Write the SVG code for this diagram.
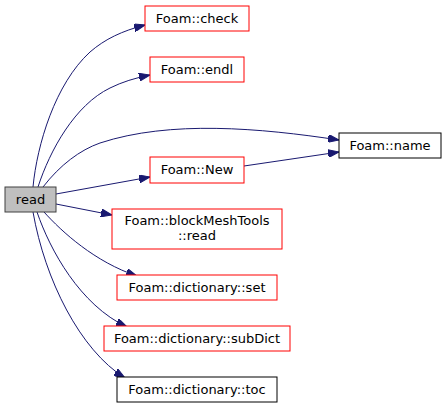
<svg xmlns="http://www.w3.org/2000/svg" width="447" height="408" viewBox="0 0 447 408">
<style>
text{font-family:"DejaVu Sans",sans-serif;font-size:13px;text-anchor:middle;fill:#000}
.r{fill:#fff;stroke:#ff0000;stroke-width:1}
.b{fill:#fff;stroke:#000;stroke-width:1}
.e{fill:none;stroke:#191970;stroke-width:1;marker-end:url(#a)}
</style>
<defs>
<marker id="a" markerUnits="userSpaceOnUse" markerWidth="11" markerHeight="8" refX="11" refY="4" orient="auto"><path d="M0,0 L11,4 L0,8 z" fill="#191970" stroke="#191970"/></marker>
</defs>
<rect width="447" height="408" fill="#fff"/>
<g id="edges">
<path class="e" d="M33,187 C37,145 55,84 90,52 C105,39 122,31 145,25"/>
<path class="e" d="M38,187 C50,150 75,105 110,88 C122,82 135,78 150,75"/>
<path class="e" d="M43,187 C60,165 80,150 100,143 C170,120 260,128 339,140"/>
<path class="e" d="M56,194 L150,177"/>
<path class="e" d="M244,166 L339,152"/>
<path class="e" d="M56,204 L112,215"/>
<path class="e" d="M44,212 C62,232 95,262 137,276"/>
<path class="e" d="M37,212 C50,250 80,305 127,327"/>
<path class="e" d="M33,212 C45,280 80,350 125,378"/>
</g>
<g id="read"><rect x="5" y="187" width="51" height="25" fill="#bfbfbf" stroke="#404040"/><text x="30.5" y="204">read</text></g>
<g id="check"><rect class="r" x="145" y="6" width="104" height="25"/><text x="197" y="23">Foam::check</text></g>
<g id="endl"><rect class="r" x="150" y="57" width="94" height="25"/><text x="197" y="74">Foam::endl</text></g>
<g id="name"><rect class="b" x="339" y="133" width="102" height="25" stroke="#404040"/><text x="390" y="150">Foam::name</text></g>
<g id="New"><rect class="r" x="150" y="157" width="94" height="26"/><text x="197" y="174">Foam::New</text></g>
<g id="blockMeshTools"><rect class="r" x="112" y="209" width="170" height="40"/><text x="197" y="225">Foam::blockMeshTools</text><text x="197" y="240">::read</text></g>
<g id="set"><rect class="r" x="117" y="275" width="160" height="25"/><text x="197" y="292">Foam::dictionary::set</text></g>
<g id="subDict"><rect class="r" x="104" y="326" width="186" height="25"/><text x="197" y="343">Foam::dictionary::subDict</text></g>
<g id="toc"><rect class="b" x="117" y="377" width="160" height="25" stroke="#404040"/><text x="197" y="394">Foam::dictionary::toc</text></g>
</svg>
